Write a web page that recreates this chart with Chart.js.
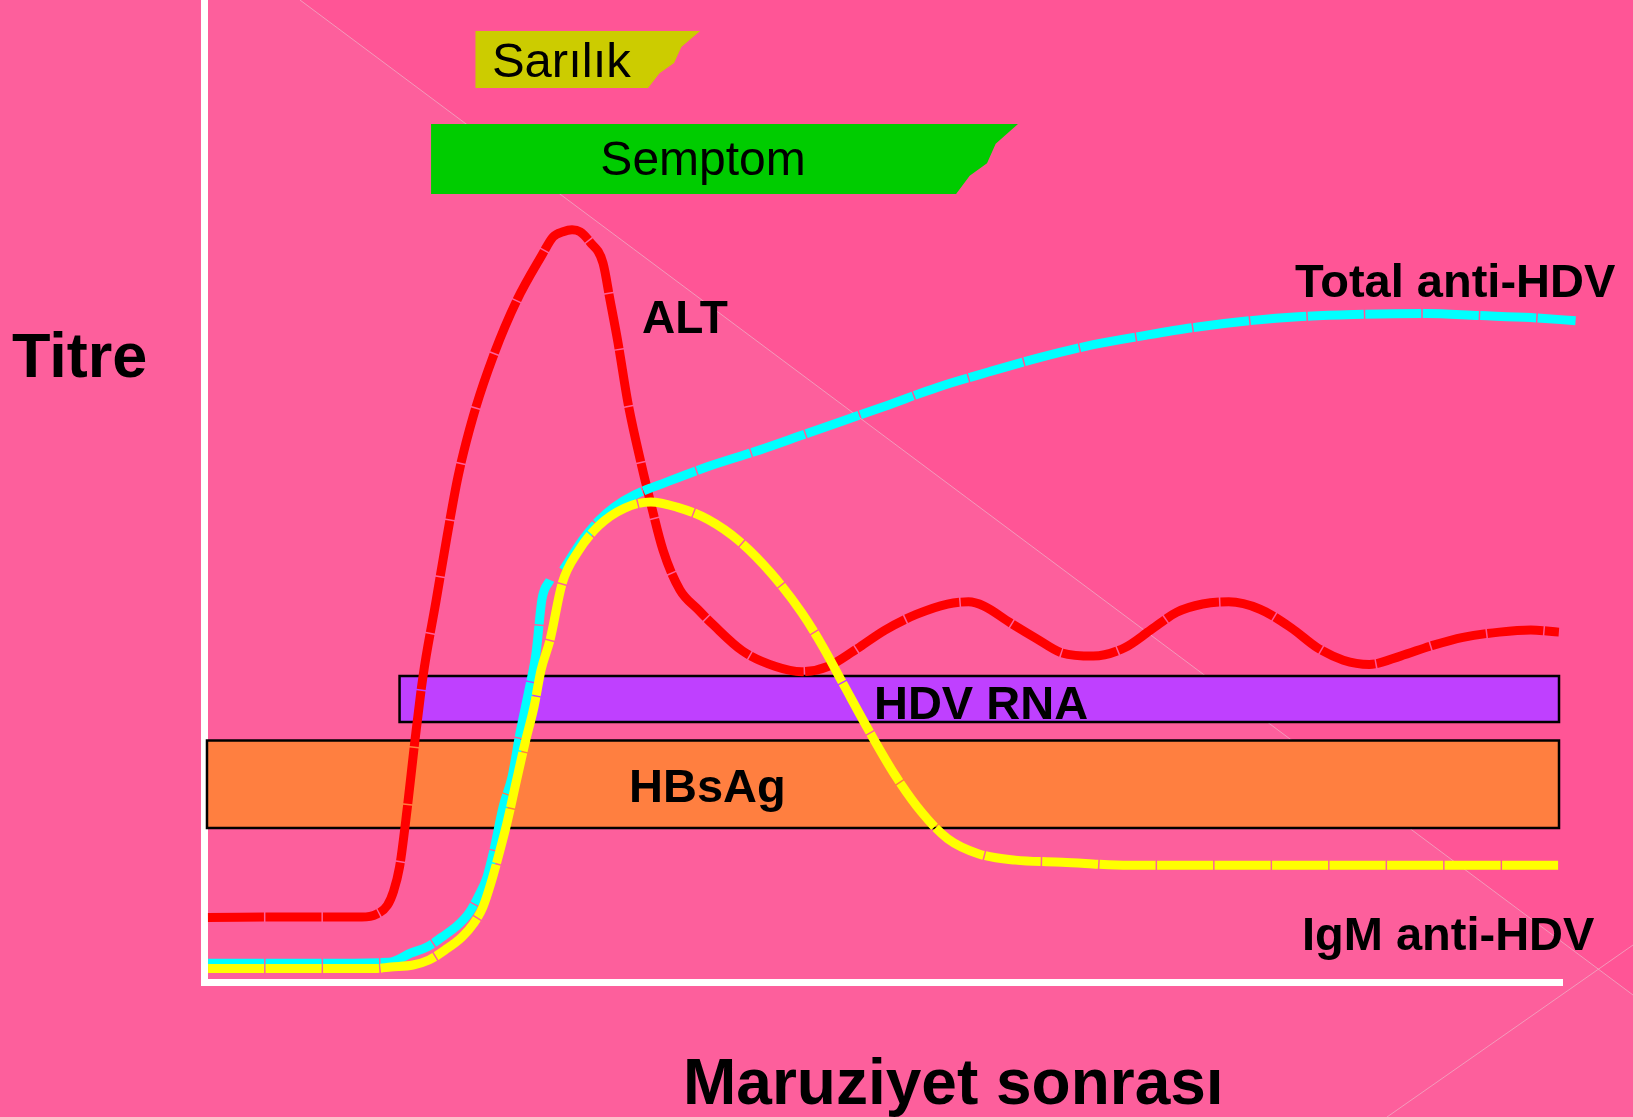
<!DOCTYPE html>
<html lang="tr">
<head>
<meta charset="UTF-8">
<script src="https://cdn.jsdelivr.net/npm/chart.js"></script>
<title>HDV süperinfeksiyon</title>
<style>
  body { margin: 0; background: #fd5f9c; }
  #kutu { width: 1633px; height: 1117px; }
</style>
</head>
<body>
<div id="kutu"><canvas id="grafik"></canvas></div>
<script>
// x: maruziyet sonrası zaman (göreli), y: titre (göreli)
const altX = [0.29, 7.07, 11.63, 12.70, 13.50, 13.95, 14.40, 14.95, 15.52, 16.13, 17.10, 17.89, 18.70, 19.81, 21.28, 23.05, 24.89, 25.70, 26.44, 27.10, 27.69, 28.42, 29.38, 29.90, 30.49, 31.22, 32.25, 32.84, 33.80, 35.05, 36.35, 37.50, 39.65, 42.10, 44.02, 45.94, 47.85, 50.15, 52.45, 54.75, 56.29, 57.44, 59.36, 61.27, 63.19, 65.49, 67.79, 69.71, 71.63, 73.54, 75.46, 77.76, 80.06, 81.98, 83.90, 85.81, 88.11, 90.41, 92.71, 95.40, 97.70, 99.77];
const altY = [6.57, 6.62, 6.62, 6.90, 7.80, 9.20, 11.71, 17.50, 24.44, 31.16, 38.90, 45.32, 51.43, 57.54, 63.65, 69.45, 74.03, 75.87, 76.40, 76.60, 76.40, 75.36, 73.22, 69.45, 65.07, 58.96, 52.44, 49.08, 43.99, 39.92, 37.96, 36.37, 33.72, 32.13, 31.60, 32.13, 33.72, 35.84, 37.43, 38.49, 38.71, 38.28, 36.59, 35.00, 33.51, 33.19, 34.04, 35.84, 37.65, 38.49, 38.71, 37.96, 36.06, 34.04, 32.77, 32.34, 33.19, 34.25, 35.10, 35.63, 35.84, 35.63];

const totalX = [0.3, 7.2, 13.62, 15.24, 16.42, 17.53, 18.70, 19.51, 20.18, 20.84, 21.35, 22.02, 22.68, 23.27, 23.93, 24.45, 24.89, 25.48, null, 26.44, 27.91, 29.06, 30.21, 31.75, 34.05, 37.12, 40.95, 44.02, 47.09, 50.15, 53.99, 57.82, 61.66, 65.49, 69.33, 73.16, 77.00, 80.83, 84.66, 90.03, 93.87, 97.70, 101.0];
const totalY = [1.9, 1.9, 2.0, 2.95, 3.56, 4.58, 5.80, 7.03, 8.66, 10.69, 13.44, 17.82, 20.88, 25.36, 29.74, 33.5, 39.0, 40.94, null, 41.96, 45.07, 46.98, 48.36, 49.63, 50.90, 52.49, 54.19, 55.67, 57.16, 58.64, 60.55, 62.14, 63.63, 64.90, 65.85, 66.70, 67.34, 67.76, 67.97, 68.08, 67.87, 67.66, 67.34];

const igmX = [0.3, 7.07, 12.6, 13.77, 15.39, 16.57, 17.75, 19.00, 19.88, 20.54, 21.13, 21.80, 22.31, 22.97, 23.64, 24.30, 24.82, 25.48, 26.38, 27.53, 29.06, 30.98, 32.90, 34.82, 37.12, 39.42, 41.72, 44.02, 45.55, 47.09, 49.00, 50.92, 52.84, 54.75, 57.06, 59.74, 63.19, 68.17, 77.00, 88.50, 99.77];
const igmY = [1.37, 1.37, 1.37, 1.53, 1.73, 2.24, 3.26, 4.58, 6.01, 7.64, 10.08, 13.44, 16.19, 20.26, 24.34, 28.00, 31.77, 34.83, 40.62, 43.80, 46.45, 48.25, 48.89, 48.36, 47.10, 44.90, 41.70, 37.60, 34.20, 30.30, 25.50, 21.00, 17.30, 14.60, 13.04, 12.41, 12.20, 11.88, 11.88, 11.88, 11.88];

// dönemler / bantlar
const bandNames = ['Sarılık', 'Semptom', 'HDV RNA', 'HBsAg'];
const bandStart = [19.99, 16.72, 14.40, 0.22];
const bandEnd = [36.53, 59.94, 99.78, 99.78];
const bandEndLow = [32.70, 55.38, 99.78, 99.78];
const bandLow = [91.04, 80.24, 26.48, 15.68];
const bandHigh = [96.84, 87.37, 31.16, 24.59];

function pairs(xs, ys) {
    return xs.map((x, i) => ({ x: x, y: ys[i] }));
}

const FONT = '"Liberation Sans", Arial, sans-serif';
const bandColors = ['#cccc00', '#00cc00', '#bf40ff', '#ff7f40'];
const bandBorder = [false, false, true, true];

// arka plan: pembe zemin, üst sağda koyu üçgen ve ince çizgiler
const arkaPlan = {
    id: 'arkaPlan',
    beforeDraw(chart) {
        const c = chart.ctx;
        const w = chart.width, h = chart.height;
        c.save();
        c.fillStyle = '#fd5f9c';
        c.fillRect(0, 0, w, h);
        c.fillStyle = '#ff5596';
        c.beginPath();
        c.moveTo(300, 0);
        c.lineTo(w, 0);
        c.lineTo(w, 995);
        c.closePath();
        c.fill();
        c.strokeStyle = 'rgba(240,170,195,0.8)';
        c.lineWidth = 1;
        c.beginPath();
        c.moveTo(300, 0); c.lineTo(w, 995);
        c.moveTo(1387, h); c.lineTo(w, 945);
        c.stroke();
        c.restore();
    }
};

// bantlar (çizgilerin altında)
const bantlar = {
    id: 'bantlar',
    beforeDatasetsDraw(chart) {
        const c = chart.ctx;
        const xs = chart.scales.x, ys = chart.scales.y;
        c.save();
        bandNames.forEach((name, i) => {
            const x0 = xs.getPixelForValue(bandStart[i]);
            const x1 = xs.getPixelForValue(bandEnd[i]);
            const x2 = xs.getPixelForValue(bandEndLow[i]);
            const yT = ys.getPixelForValue(bandHigh[i]);
            const yB = ys.getPixelForValue(bandLow[i]);
            const hh = yB - yT, s = x1 - x2;
            c.beginPath();
            c.moveTo(x0, yT);
            c.lineTo(x1, yT);
            if (s > 0) {
                // yırtık sağ kenar
                c.lineTo(x1 - s * 0.36, yT + hh * 0.28);
                c.lineTo(x1 - s * 0.50, yT + hh * 0.56);
                c.lineTo(x1 - s * 0.78, yT + hh * 0.74);
            }
            c.lineTo(x2, yB);
            c.lineTo(x0, yB);
            c.closePath();
            c.fillStyle = bandColors[i];
            c.fill();
            if (bandBorder[i]) {
                c.strokeStyle = '#000';
                c.lineWidth = 2.5;
                c.stroke();
            }
        });
        c.restore();
    }
};

const etiketler = [
    { t: 'Sarılık', x: 21.2, y: 92.16, f: '49px ' + FONT, a: 'left' },
    { t: 'Semptom', x: 36.75, y: 82.18, f: '48px ' + FONT, a: 'center' },
    { t: 'ALT', x: 32.25, y: 66.09, f: 'bold 46px ' + FONT, a: 'left' },
    { t: 'Total anti-HDV', x: 80.34, y: 69.76, f: 'bold 47px ' + FONT, a: 'left' },
    { t: 'HDV RNA', x: 57.22, y: 26.78, f: 'bold 47px ' + FONT, a: 'center' },
    { t: 'HBsAg', x: 31.3, y: 18.33, f: 'bold 47px ' + FONT, a: 'left' },
    { t: 'IgM anti-HDV', x: 80.85, y: 3.26, f: 'bold 47px ' + FONT, a: 'left' }
];

const yazilar = {
    id: 'yazilar',
    afterDatasetsDraw(chart) {
        const c = chart.ctx;
        const xs = chart.scales.x, ys = chart.scales.y;
        c.save();
        c.fillStyle = '#000';
        c.textBaseline = 'alphabetic';
        etiketler.forEach(e => {
            c.font = e.f;
            c.textAlign = e.a;
            c.fillText(e.t, xs.getPixelForValue(e.x), ys.getPixelForValue(e.y));
        });
        c.textAlign = 'left';
        c.font = 'bold 63px ' + FONT;
        c.fillText('Titre', 12, 377);
        c.font = 'bold 64px ' + FONT;
        c.fillText('Maruziyet sonrası', 683, 1104);
        c.restore();
    }
};

const ctx = document.getElementById('grafik').getContext('2d');
const cizgi = { borderWidth: 9, pointRadius: 0, cubicInterpolationMode: 'monotone', borderDash: [56, 1.5], borderCapStyle: 'butt', clip: false, fill: false };

new Chart(ctx, {
    type: 'line',
    data: {
        datasets: [
            Object.assign({ label: 'IgM anti-HDV', data: pairs(igmX, igmY), borderColor: '#ffff00', order: 1 }, cizgi),
            Object.assign({ label: 'Total anti-HDV', data: pairs(totalX, totalY), borderColor: '#00ffff', order: 2 }, cizgi),
            Object.assign({ label: 'ALT', data: pairs(altX, altY), borderColor: '#ff0000', order: 3 }, cizgi)
        ]
    },
    options: {
        responsive: true,
        maintainAspectRatio: false,
        animation: false,
        layout: { autoPadding: false, padding: { left: 204, right: 71, top: 0, bottom: 135 } },
        plugins: {
            legend: { display: false },
            tooltip: { enabled: false }
        },
        scales: {
            x: {
                type: 'linear', min: 0, max: 100,
                grid: { display: false, drawTicks: false },
                ticks: { display: false },
                border: { color: '#ffffff', width: 7 }
            },
            y: {
                min: 0, max: 100,
                grid: { display: false, drawTicks: false },
                ticks: { display: false },
                border: { color: '#ffffff', width: 7 }
            }
        }
    },
    plugins: [arkaPlan, bantlar, yazilar]
});
</script>
</body>
</html>
